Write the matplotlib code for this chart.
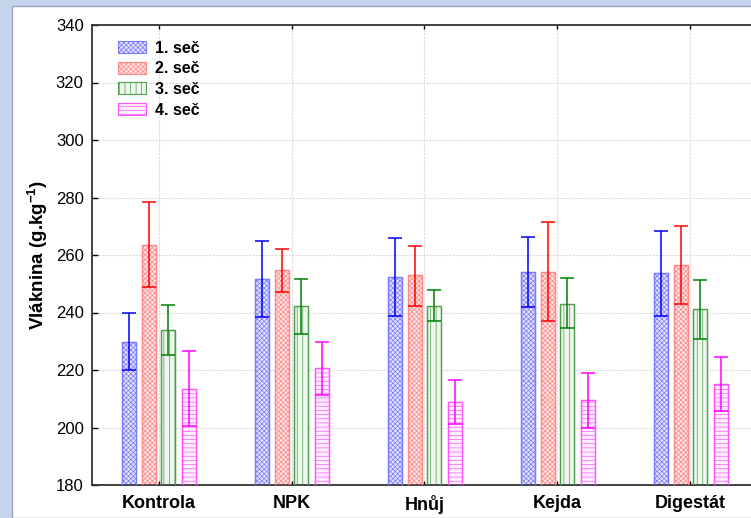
import numpy as np
import matplotlib
matplotlib.use("Agg")
import matplotlib.pyplot as plt
from matplotlib.patches import Rectangle

plt.rcParams['font.family'] = ['Liberation Sans', 'DejaVu Sans']
plt.rcParams['mathtext.fontset'] = 'custom'
plt.rcParams['mathtext.rm'] = 'Liberation Sans'
plt.rcParams['mathtext.bf'] = 'Liberation Sans:bold'
plt.rcParams['hatch.linewidth'] = 0.5

categories = ['Kontrola', 'NPK', 'Hnůj', 'Kejda', 'Digestát']
series = ['1. seč', '2. seč', '3. seč', '4. seč']

# means and confidence limits
means = [
    [229.9, 251.6, 252.5, 254.0, 253.7],
    [263.4, 254.7, 252.9, 254.0, 256.4],
    [233.9, 242.1, 242.4, 243.1, 241.2],
    [213.5, 220.6, 209.0, 209.4, 215.0],
]
upper = [
    [239.9, 264.8, 265.8, 266.3, 268.4],
    [278.3, 262.2, 263.0, 271.5, 270.1],
    [242.6, 251.8, 247.8, 251.9, 251.4],
    [226.6, 229.6, 216.6, 219.1, 224.6],
]
lower = [
    [220.0, 238.3, 238.8, 241.9, 238.8],
    [248.8, 247.0, 242.3, 236.9, 242.9],
    [225.1, 232.4, 237.1, 234.5, 230.9],
    [200.5, 211.3, 201.1, 199.7, 205.8],
]

colors = ['#0000ff', '#ff0000', '#008000', '#ff00ff']
fills = ['#e2e2ff', '#ffe2e2', '#eef6ee', '#fff0ff']
hatch_cols = ['#7a7aff', '#ff8888', '#4f9f4f', '#ff55ff']
hatches = ['xxxxxxx', 'xxxxxxx', '|||', '----']

fig = plt.figure(figsize=(7.51, 5.18), dpi=100)
fig.patch.set_facecolor('#c4d4eb')
fig.patches.append(Rectangle((12 / 751, 0), 1, 1 - 6 / 518, transform=fig.transFigure,
                             facecolor='white', edgecolor='#9aa6b8', linewidth=1, zorder=-10))

ax = fig.add_axes([92 / 751, 33 / 518, 665 / 751, 460 / 518])
ax.set_facecolor('white')

x = np.arange(len(categories))
offsets = [-0.222, -0.075, 0.075, 0.228]
width = 0.105

for i in range(4):
    m = np.array(means[i])
    lo = m - np.array(lower[i])
    hi = np.array(upper[i]) - m
    ax.bar(x + offsets[i], m - 180, width, bottom=180, color=fills[i],
           edgecolor=hatch_cols[i], hatch=hatches[i], linewidth=0.8, zorder=2,
           label=series[i])
    ax.bar(x + offsets[i], m - 180, width, bottom=180, color='none',
           edgecolor=hatch_cols[i], linewidth=1.0, zorder=3)
    ax.errorbar(x + offsets[i], m, yerr=[lo, hi], fmt='none', ecolor=colors[i],
                elinewidth=1.1, capsize=5, capthick=1.1, zorder=4)

ax.set_xlim(-0.5, 4.5)
ax.set_ylim(180, 340)
ax.set_yticks(np.arange(180, 341, 20))
ax.set_xticks(x)
ax.set_xticklabels(categories, fontsize=13, fontweight='bold')
ax.tick_params(axis='y', labelsize=12, direction='in', length=4, width=1, pad=6)
ax.tick_params(axis='x', direction='in', length=3, width=1, top=True, pad=7)
ax.set_ylabel('Vláknina (g.kg$\\mathbf{^{-1}}$)', fontsize=13.5, fontweight='bold', labelpad=4)

ax.grid(True, color='#dcdcdc', linestyle=(0, (2, 1)), linewidth=0.8, zorder=0)
ax.set_axisbelow(True)
for s in ['left', 'top', 'bottom']:
    ax.spines[s].set_color('#333333')
    ax.spines[s].set_linewidth(1.3)
ax.spines['right'].set_visible(False)

leg = ax.legend(loc='upper left', bbox_to_anchor=(0.018, 0.997), frameon=False,
                prop={'weight': 'bold', 'size': 11.5}, handlelength=1.75,
                handleheight=0.8, labelspacing=0.35, handletextpad=0.55)

fig.savefig('out.png', dpi=100, facecolor=fig.get_facecolor())
